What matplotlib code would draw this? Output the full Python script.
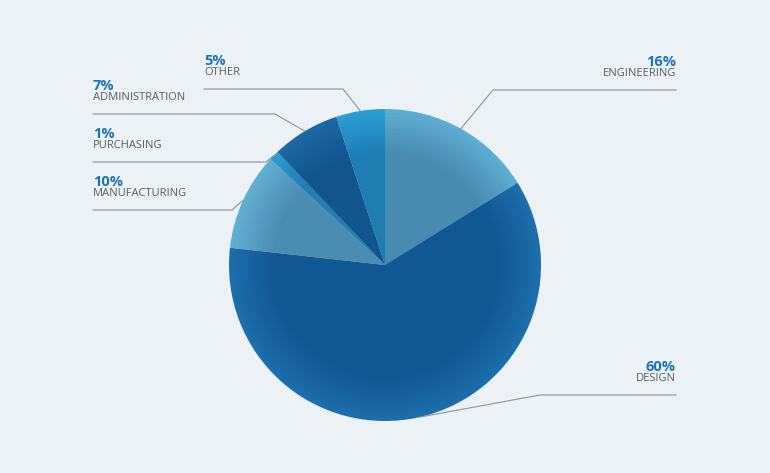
import numpy as np
import matplotlib.pyplot as plt

categories = ["ENGINEERING", "DESIGN", "MANUFACTURING", "PURCHASING", "ADMINISTRATION", "OTHER"]
shares = [16, 60, 10, 1, 7, 5]
colors = ["#5fb0d5", "#1c6fae", "#64b2d7", "#2c9fd8", "#1d6aa6", "#2aa0d8"]

bg = "#ecf1f5"
fig = plt.figure(figsize=(7.7, 4.73), dpi=100, facecolor=bg)
ax = fig.add_axes([0, 0, 1, 1])
ax.set_facecolor(bg)
ax.set_xlim(0, 770)
ax.set_ylim(473, 0)
ax.axis("off")

cx, cy, r = 385, 265, 156
# flip y: pie drawn in inverted axis, so counterclock=True gives clockwise on screen
wedges, _ = ax.pie(shares, colors=colors, startangle=-90, counterclock=True,
                   center=(cx, cy), radius=r, frame=True,
                   wedgeprops=dict(linewidth=0))
ax.set_xlim(0, 770)
ax.set_ylim(473, 0)
ax.set_aspect("equal")
ax.axis("off")

# subtle darkening toward the rim
for k in range(12):
    rr = r * (1 - k * 0.025)
    ax.add_patch(plt.Circle((cx, cy), rr, color="#0b2f55", alpha=0.025, lw=0))

# label layout: (text x, line y, ha, elbow x)
layout = {
    "ENGINEERING": (676, 90, "right", 493),
    "DESIGN": (676, 395, "right", 540),
    "MANUFACTURING": (93, 210, "left", 232),
    "PURCHASING": (93, 162, "left", 266),
    "ADMINISTRATION": (93, 114, "left", 275),
    "OTHER": (204, 89, "left", 343),
}

total = sum(shares)
for w, name, s in zip(wedges, categories, shares):
    ang = np.deg2rad((w.theta1 + w.theta2) / 2)
    ex = cx + r * np.cos(ang)
    ey = cy + r * np.sin(ang)
    tx, ly, ha, elx = layout[name]
    if ha == "right":
        ax.plot([ex, elx, tx], [ey, ly, ly], color="#8a949c", lw=0.8)
    else:
        if abs(elx - ex) < 5:
            ax.plot([tx, ex], [ly, ly], color="#8a949c", lw=0.8)
        else:
            ax.plot([tx, elx, ex], [ly, ly, ey], color="#8a949c", lw=0.8)
    ax.text(tx, ly - 14, name, ha=ha, va="baseline", fontsize=8, color="#555d63",
            family="Open Sans")
    ax.text(tx, ly - 24, f"{s}%", ha=ha, va="baseline", fontsize=10.5,
            fontweight="bold", color="#1b74b6", family="Open Sans")

fig.savefig("out.png", dpi=100, facecolor=bg)
